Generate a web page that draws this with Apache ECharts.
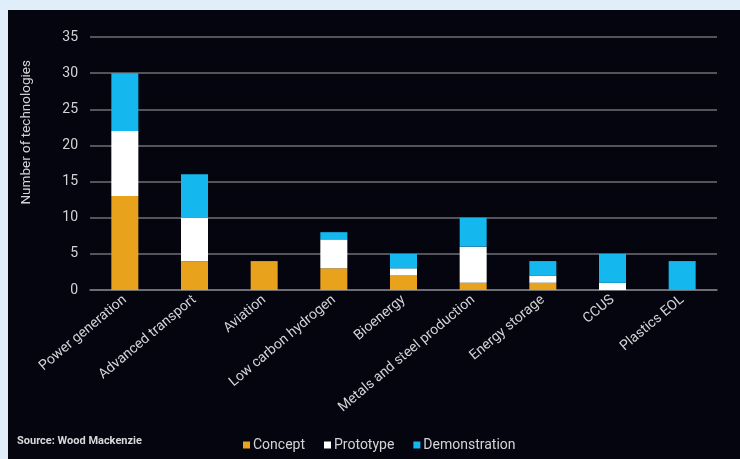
<!DOCTYPE html>
<html>
<head>
<meta charset="utf-8">
<script src="https://cdn.jsdelivr.net/npm/echarts@6/dist/echarts.min.js"></script>
<style>
html,body{margin:0;padding:0;width:740px;height:459px;background:#e0eefa;overflow:hidden;}
#chart{position:absolute;left:8px;top:10px;width:732px;height:449px;}
</style>
</head>
<body>
<div id="chart"></div>
<script>
const categories = ["Power generation","Advanced transport","Aviation","Low carbon hydrogen","Bioenergy","Metals and steel production","Energy storage","CCUS","Plastics EOL"];
const concept = [13,4,4,3,2,1,1,0,0];
const prototype = [9,6,0,4,1,5,1,1,0];
const demonstration = [8,6,0,1,2,4,2,4,4];
const yTicks = {min:0, max:35, interval:5};

const chart = echarts.init(document.getElementById('chart'), null, {renderer:'canvas'});
const textColor = '#d4d4d8';
const mk = (name, data, color) => ({
  name, type:'bar', stack:'total', data, barWidth:27,
  itemStyle:{color}, emphasis:{disabled:true}
});
chart.setOption({
  backgroundColor:'#05050f',
  animation:false,
  grid:{left:82, right:23, top:27, bottom:169, containLabel:false},
  legend:{
    left:230, top:423, itemWidth:7, itemHeight:7, itemGap:19,
    icon:'rect',
    textStyle:{color:textColor, fontSize:14, fontFamily:'Roboto', padding:[0,0,0,-2]},
    data:['Concept','Prototype','Demonstration']
  },
  xAxis:{
    type:'category', data:categories,
    axisLine:{lineStyle:{color:'#77777c', width:1.5}},
    axisTick:{show:false},
    axisLabel:{color:textColor, fontSize:14, fontFamily:'Roboto', rotate:40, interval:0, margin:8}
  },
  yAxis:{
    type:'value', min:yTicks.min, max:yTicks.max, interval:yTicks.interval,
    axisLine:{show:false}, axisTick:{show:false},
    axisLabel:{color:textColor, fontSize:14, fontFamily:'Roboto', margin:12},
    splitLine:{lineStyle:{color:'#6e6e74', width:1.5}}
  },
  graphic:[
    {type:'text', left:12, top:50, rotation:Math.PI/2,
     style:{text:'Number of technologies', fill:textColor, font:'13.5px Roboto'}},
    {type:'text', left:9, top:426,
     style:{text:'Source: Wood Mackenzie', fill:'#d8d8dc', font:'bold 11px Roboto'}}
  ],
  series:[
    mk('Concept', concept, '#e9a21b'),
    mk('Prototype', prototype, '#ffffff'),
    mk('Demonstration', demonstration, '#14b8ee')
  ]
});
</script>
</body>
</html>
